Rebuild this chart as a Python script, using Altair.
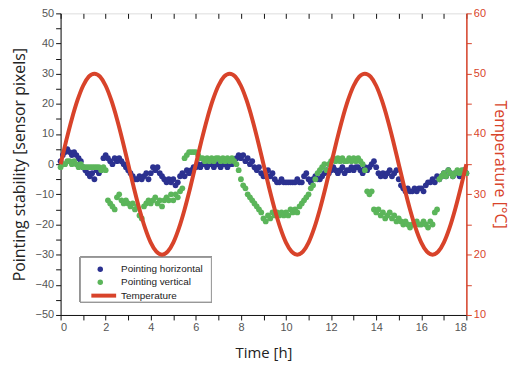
import altair as alt
import pandas as pd

# Time axis for pointing data (h), step 0.1
t_pts = [round(i * 0.1, 1) for i in range(181)]

horizontal = [
    1, 3, 4, 5, 4, 3, 4, 3, 2, 1,
    -1, -2, -3, -4, -3, -5, -2, -3, -2, 2,
    3, 2, 1, 0, 2, 1, 2, 1, 0, -1,
    -2, -3, -4, -5, -5, -4, -5, -4, -3, -5,
    -3, -1, -2, -1, -3, -4, -5, -6, -5, -6,
    -5, -7, -6, -4, -3, -4, -2, -3, -2, -1,
    -1, 0, -1, 0, 0, -1, 0, 0, -1, 0,
    0, -1, 0, 0, -1, 0, 0, 1, 2, 3,
    2, 3, 1, 2, 0, 1, -1, -2, -1, -3,
    -4, -3, -2, -4, -3, -5, -6, -6, -5, -6,
    -6, -6, -6, -6, -6, -5, -6, -6, -4, -3,
    -5, -6, -5, -4, -5, -5, -4, -3, -2, -3,
    -2, -1, -2, -3, -2, -1, -3, -2, -2, -1,
    -2, -1, -1, -2, -3, -1, -2, -1, 0, 1,
    -1, -3, -4, -3, -4, -3, -2, -4, -3, -2,
    -5, -7, -8, -9, -8, -9, -9, -8, -9, -8,
    -8, -9, -7, -6, -6, -5, -6, -4, -5, -4,
    -3, -4, -2, -3, -4, -3, -3, -4, -3, -2,
    -3,
]

vertical = [
    -1, 0, 0, 1, 1, 0, 1, 0, -1, 0,
    -1, -1, -1, -1, -1, -1, -1, -1, -2, -1,
    -2, -12, -13, -14, -15, -11, -10, -12, -13, -12,
    -13, -14, -13, -15, -14, -17, -18, -14, -13, -12,
    -13, -12, -11, -13, -12, -14, -12, -11, -12, -10,
    -12, -10, -11, -9, -8, 2, 3, 4, 4, 4,
    4, 3, 2, 2, 1, 2, 1, 2, 1, 2,
    2, 1, 2, 1, 2, 1, 2, 1, 0, -2,
    -5, -7, -8, -10, -11, -12, -13, -14, -15, -16,
    -18, -19, -17, -18, -16, -17, -16, -17, -16, -17,
    -16, -17, -15, -16, -15, -16, -14, -13, -12, -11,
    -10, -8, -7, -5, -3, -2, -1, 0, -2, 0,
    1, 2, 1, 2, 1, 2, 1, 1, 2, 1,
    2, 1, 2, 1, 0, -2, -9, -10, -9, -15,
    -16, -15, -17, -16, -18, -17, -16, -18, -17, -19,
    -18, -19, -20, -19, -20, -21, -20, -20, -19, -20,
    -20, -19, -20, -21, -19, -20, -16, -15, -5, -4,
    -3, -4, -2, -3, -4, -3, -2, -3, -2, -3,
    -3,
]

# Temperature (°C), step 0.25 h
t_temp = [round(i * 0.25, 2) for i in range(73)]
temperature = [
    35, 38.9, 42.5, 45.6, 48.0, 49.5, 50, 49.5, 48.0, 45.6, 42.5, 38.9,
    35, 31.1, 27.5, 24.4, 22.0, 20.5, 20, 20.5, 22.0, 24.4, 27.5, 31.1,
    35, 38.9, 42.5, 45.6, 48.0, 49.5, 50, 49.5, 48.0, 45.6, 42.5, 38.9,
    35, 31.1, 27.5, 24.4, 22.0, 20.5, 20, 20.5, 22.0, 24.4, 27.5, 31.1,
    35, 38.9, 42.5, 45.6, 48.0, 49.5, 50, 49.5, 48.0, 45.6, 42.5, 38.9,
    35, 31.1, 27.5, 24.4, 22.0, 20.5, 20, 20.5, 22.0, 24.4, 27.5, 31.1,
    35,
]

point_names = ["Pointing horizontal", "Pointing vertical"]
point_colors = ["#2b3190", "#5bb55a"]
temp_name = "Temperature"
temp_color = "#d8432a"

pts = pd.DataFrame({
    "t": t_pts * 2,
    "v": horizontal + vertical,
    "series": [point_names[0]] * len(t_pts) + [point_names[1]] * len(t_pts),
})
temp = pd.DataFrame({"t": t_temp, "T": temperature, "series": temp_name})

LBL = "Liberation Sans"
TTL = "Open Sans"

xsc = alt.Scale(domain=[0, 18], nice=False)

x_ax = alt.Axis(
    orient="bottom",
    title="Time [h]",
    values=list(range(0, 19)),
    labelExpr="datum.value % 2 == 0 ? datum.label : ''",
    grid=False,
    domainColor="#111",
    tickColor="#111",
    tickSize=5,
    labelFont=LBL,
    labelFontSize=11,
    labelColor="#555",
    titleFont=TTL,
    titleFontSize=15,
    titleFontWeight="normal",
    titleColor="#222",
    titlePadding=13,
)

points = alt.Chart(pts).mark_circle(size=34, opacity=1).encode(
    x=alt.X("t:Q", scale=xsc, axis=x_ax),
    y=alt.Y(
        "v:Q",
        scale=alt.Scale(domain=[-50, 50], nice=False),
        axis=alt.Axis(
            title="Pointing stability [sensor pixels]",
            values=list(range(-50, 51, 5)),
            labelExpr="datum.value % 10 == 0 ? datum.label : ''",
            grid=False,
            domainColor="#111",
            tickColor="#111",
            tickSize=5,
            labelFont=LBL,
            labelFontSize=11,
            labelColor="#555",
            titleFont=TTL,
            titleFontSize=16,
            titleFontWeight="normal",
            titleColor="#222",
            titlePadding=8,
        ),
    ),
    color=alt.Color(
        "series:N",
        scale=alt.Scale(domain=point_names, range=point_colors),
        legend=alt.Legend(
            title=None,
            orient="none",
            legendX=35,
            legendY=253,
            padding=0,
            labelFont=LBL,
            labelFontSize=10,
            labelColor="#222",
            labelOffset=16,
            rowPadding=3,
            symbolType="circle",
            symbolSize=30,
            symbolStrokeWidth=0,
        ),
    ),
)

line = alt.Chart(temp).mark_line(strokeWidth=4, interpolate="monotone").encode(
    x=alt.X("t:Q", scale=xsc, axis=None),
    y=alt.Y(
        "T:Q",
        scale=alt.Scale(domain=[10, 60], nice=False),
        axis=alt.Axis(
            orient="right",
            title="Temperature [°C]",
            titleAngle=90,
            values=list(range(10, 61, 5)),
            labelExpr="datum.value % 10 == 0 ? datum.label : ''",
            grid=False,
            domainColor=temp_color,
            domainWidth=1.5,
            tickColor=temp_color,
            tickSize=5,
            labelFont=LBL,
            labelFontSize=11,
            labelColor=temp_color,
            titleFont=TTL,
            titleFontSize=16,
            titleFontWeight="normal",
            titleColor=temp_color,
            titlePadding=6,
        ),
    ),
    stroke=alt.Stroke(
        "series:N",
        scale=alt.Scale(domain=[temp_name], range=[temp_color]),
        legend=alt.Legend(
            title=None,
            orient="none",
            legendX=29,
            legendY=270,
            padding=0,
            labelFont=LBL,
            labelFontSize=10,
            labelColor="#222",
            labelOffset=3,
            symbolType="stroke",
            symbolSize=625,
            symbolStrokeWidth=4,
        ),
    ),
)

top_ticks = alt.Chart(temp).mark_line(opacity=0).encode(
    x=alt.X(
        "t:Q",
        scale=xsc,
        axis=alt.Axis(
            orient="top",
            title=None,
            labels=False,
            domain=False,
            values=list(range(0, 19)),
            tickColor="#111",
            tickSize=5,
            offset=-5,
            grid=False,
        ),
    ),
    y=alt.Y("T:Q", scale=alt.Scale(domain=[10, 60], nice=False), axis=None),
)

legend_frame = alt.Chart(temp).mark_rect(
    fill="white", stroke="#999", strokeWidth=1
).encode(
    x=alt.value(20), x2=alt.value(152), y=alt.value(246), y2=alt.value(291)
)

chart = (
    alt.layer(legend_frame, points, line, top_ticks)
    .resolve_scale(y="independent")
    .resolve_axis(x="independent")
    .properties(
        width=409,
        height=304,
        padding={"left": 3, "top": -2, "right": 5, "bottom": 2},
    )
    .configure_view(stroke="#111", strokeWidth=1)
    .configure(background="white")
)

chart.save("out.html", embed_options={"renderer": "svg", "actions": False})
